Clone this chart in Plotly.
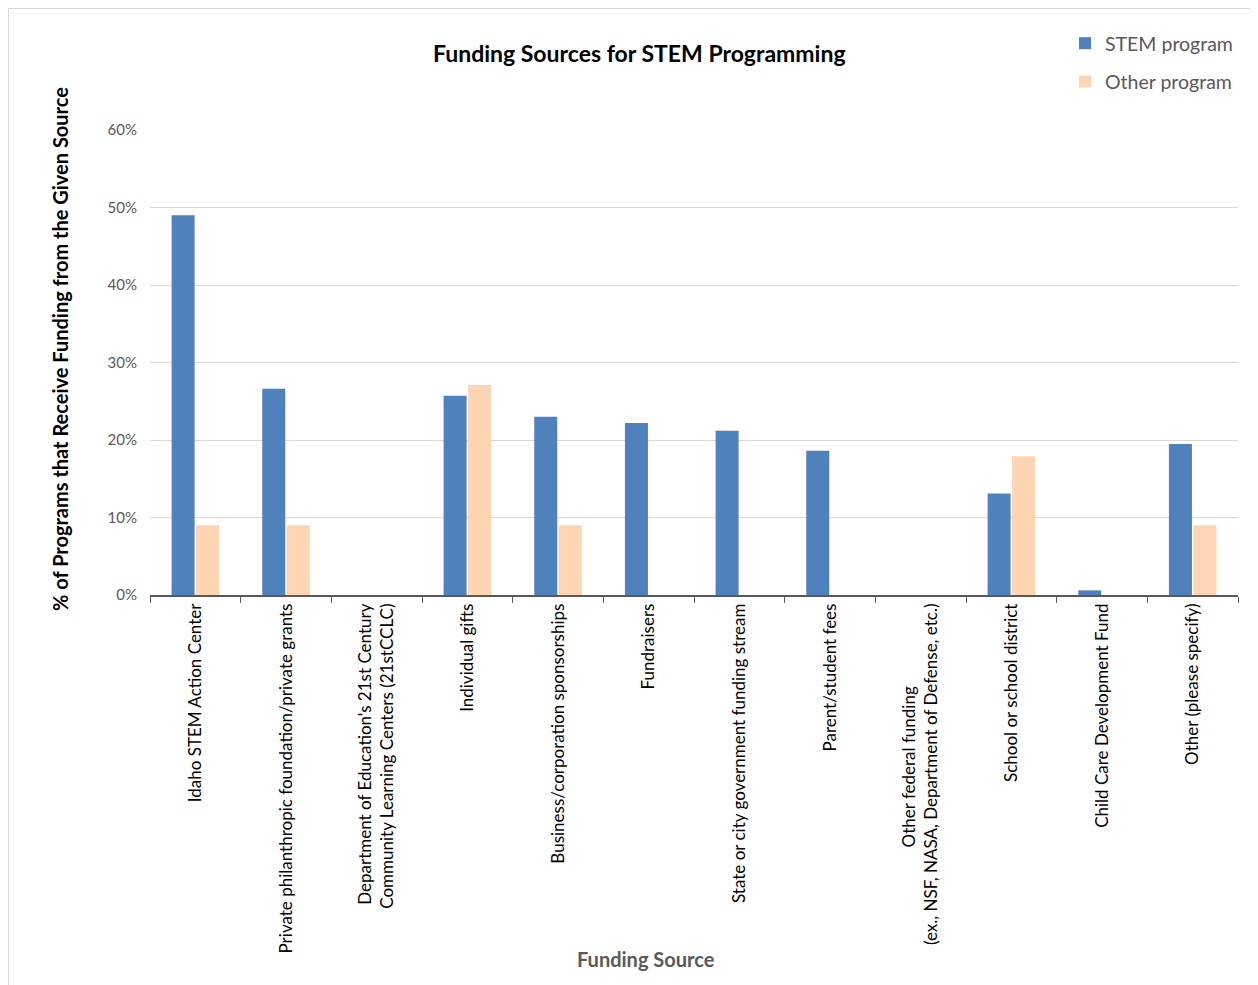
import plotly.graph_objects as go

# funding sources (x categories)
sources = [
    "Idaho STEM Action Center",
    "Private philanthropic foundation/private grants",
    "Department of Education's 21st Century<br>Community Learning Centers (21stCCLC)",
    "Individual gifts",
    "Business/corporation sponsorships",
    "Fundraisers",
    "State or city government funding stream",
    "Parent/student fees",
    "Other federal funding<br>(ex., NSF, NASA, Department of Defense, etc.)",
    "School or school district",
    "Child Care Development Fund",
    "Other (please specify)",
]

# share of programs receiving funding from each source
stem_program = [0.49, 0.266, 0.0, 0.257, 0.23, 0.222, 0.212, 0.186, 0.0, 0.131, 0.006, 0.195]
other_program = [0.09, 0.09, 0.0, 0.271, 0.09, 0.0, 0.0, 0.0, 0.0, 0.179, 0.0, 0.09]

y_ticks = [0, 0.1, 0.2, 0.3, 0.4, 0.5, 0.6]

FONT = "Lato"
# page body has an 8px margin, so the figure is a bit smaller than the window
W, H = 1250, 977
L, R, T, B = 142, 20, 122, 390


def px_x(p):
    # figure pixel -> paper x
    return (p - L) / (W - L - R)


def px_y(p):
    # figure pixel -> paper y
    return (H - B - p) / (H - T - B)


# rotated multi-line labels get end-aligned; pad the short first line so it looks centred
tick_text = [s.replace("funding<br>", "funding" + "\u00a0" * 19 + "<br>") for s in sources]

fig = go.Figure()
fig.add_trace(go.Bar(name="STEM program", x=sources, y=stem_program,
                     marker=dict(color="#4F81BD", line=dict(width=0)),
                     legendgroup="a"))
fig.add_trace(go.Bar(name="Other program", x=sources, y=other_program,
                     marker=dict(color="#FCD5B5", line=dict(width=0)),
                     legendgroup="b"))

fig.update_layout(
    width=W, height=H,
    margin=dict(l=L, r=R, t=T, b=B),
    paper_bgcolor="white", plot_bgcolor="white",
    font=dict(family=FONT, color="#000000"),
    barmode="group", bargap=0.46, bargroupgap=0.06,
    showlegend=True,
    legend=dict(x=px_x(1057), y=px_y(16), xanchor="left", yanchor="top",
                font=dict(size=19.5, color="#595959"), tracegroupgap=10,
                itemwidth=30, bgcolor="rgba(0,0,0,0)"),
    annotations=[
        dict(text="<b>Funding Sources for STEM Programming</b>", xref="paper", yref="paper",
             x=px_x(631), y=px_y(45), showarrow=False, font=dict(size=23, color="#000000"),
             xanchor="center", yanchor="middle"),
        dict(text="<b>% of Programs that Receive Funding from the Given Source</b>",
             xref="paper", yref="paper", x=px_x(52), y=px_y(341), textangle=-90,
             showarrow=False, font=dict(size=20, color="#000000"),
             xanchor="center", yanchor="middle"),
        dict(text="<b>Funding Source</b>", xref="paper", yref="paper",
             x=px_x(638), y=px_y(951), showarrow=False,
             font=dict(size=20, color="#595959"), xanchor="center", yanchor="middle"),
    ],
    shapes=[
        dict(type="line", xref="paper", yref="paper", x0=px_x(0.5), x1=px_x(0.5),
             y0=px_y(0.5), y1=px_y(H), line=dict(color="#D9D9D9", width=1)),
        dict(type="line", xref="paper", yref="paper", x0=px_x(0.5), x1=px_x(W),
             y0=px_y(0.5), y1=px_y(0.5), line=dict(color="#D9D9D9", width=1)),
    ],
)

fig.update_xaxes(
    tickangle=-90, tickfont=dict(size=17, color="#000000"),
    tickmode="array", tickvals=sources, ticktext=tick_text,
    showline=True, linecolor="#595959", linewidth=1.5,
    ticks="outside", tickson="boundaries", ticklen=6, tickcolor="#595959",
    showgrid=False,
)
fig.update_yaxes(
    range=[0, 0.6], tickvals=y_ticks, tickformat=".0%",
    tickfont=dict(size=15, color="#595959"),
    showgrid=True, gridcolor="#D9D9D9", gridwidth=1,
    zeroline=False, showline=False, ticks="", ticklabelstandoff=12,
)

fig.write_html("out.html")
